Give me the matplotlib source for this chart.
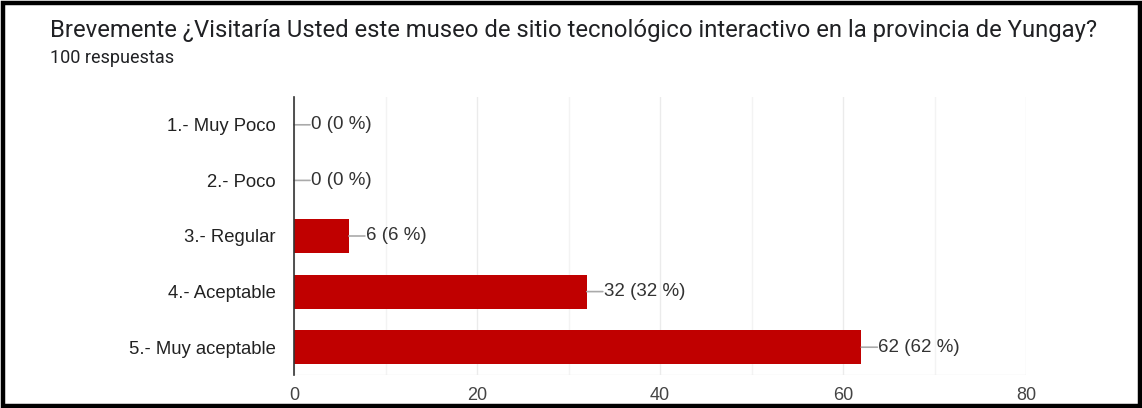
import matplotlib

matplotlib.use("Agg")
import matplotlib.pyplot as plt
from matplotlib.patches import Rectangle

# Data
categories = ["1.- Muy Poco", "2.- Poco", "3.- Regular", "4.- Aceptable", "5.- Muy aceptable"]
counts = [0, 0, 6, 32, 62]
percents = [0, 0, 6, 32, 62]
x_ticks = [0, 20, 40, 60, 80]

W, H = 1142, 408
fig = plt.figure(figsize=(W / 100, H / 100), dpi=100)

# plot area in pixels: x 294..1026, y 97..375
left, right, top, bottom = 294, 1026, 97, 375
ax = fig.add_axes([left / W, 1 - bottom / H, (right - left) / W, (bottom - top) / H])

ypos = list(range(len(categories)))
ax.barh(ypos, counts, height=0.61, color="#c00000", zorder=3)
ax.set_ylim(len(categories) - 0.5, -0.5)
ax.set_xlim(0, 80)

# gridlines (major + minor)
for v in range(0, 81, 10):
    ax.axvline(v, color="#ebebeb" if v % 20 == 0 else "#f3f3f3", linewidth=1, zorder=1)
ax.axhline(len(categories) - 0.5, color="#ebebeb", linewidth=1, zorder=1)

for s in ["top", "right", "bottom"]:
    ax.spines[s].set_visible(False)
ax.spines["left"].set_color("#333333")
ax.spines["left"].set_linewidth(1.2)
ax.spines["left"].set_zorder(4)

ax.set_xticks(x_ticks)
ax.set_xticklabels([str(t) for t in x_ticks], fontsize=13, color="#444444", family="Liberation Sans")
ax.tick_params(axis="x", length=0, pad=9)
ax.set_yticks(ypos)
ax.set_yticklabels(categories, fontsize=13.3, color="#222222", family="Liberation Sans")
ax.tick_params(axis="y", length=0, pad=13)

# value labels with small leader lines
for y, c, p in zip(ypos, counts, percents):
    ax.annotate("", xy=(c, y), xytext=(c + 1.75, y),
                arrowprops=dict(arrowstyle="-", color="#aaaaaa", lw=1.2, shrinkA=0, shrinkB=0))
    ax.text(c + 1.85, y, "{} ({} %)".format(c, p), va="center", ha="left",
            fontsize=13.5, color="#333333", family="Liberation Sans")

# title and subtitle
fig.text(50 / W, 1 - 30 / H, "Brevemente ¿Visitaría Usted este museo de sitio tecnológico interactivo en la provincia de Yungay?",
         fontsize=17.2, color="#202124", family="Roboto", va="center", ha="left")
fig.text(50 / W, 1 - 58 / H, "100 respuestas", fontsize=13, color="#202124", family="Roboto",
         va="center", ha="left")

# black frame around the image
fig.patches.append(Rectangle((2.5 / W, 2.5 / H), 1 - 5 / W, 1 - 5 / H, transform=fig.transFigure,
                             fill=False, edgecolor="black", linewidth=3.2))

fig.savefig("out.png", dpi=100)
